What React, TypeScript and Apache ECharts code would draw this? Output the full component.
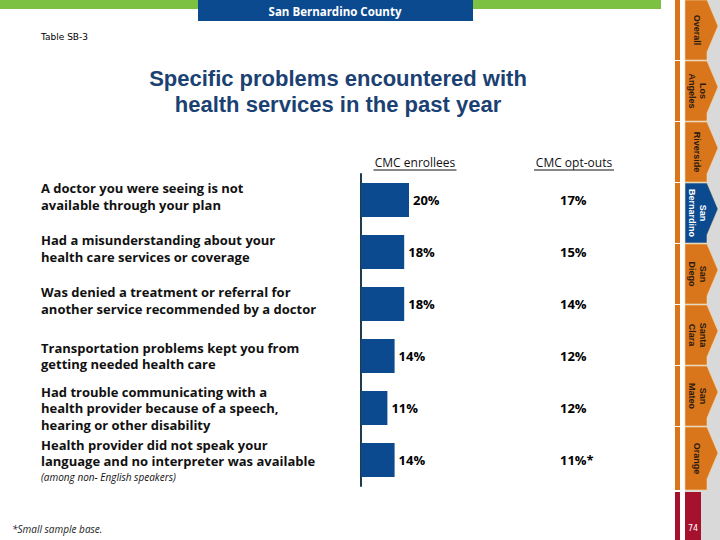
import React, { useEffect, useRef } from "react";
import * as echarts from "echarts";

const categories = [
  "A doctor you were seeing is not\navailable through your plan",
  "Had a misunderstanding about your\nhealth care services or coverage",
  "Was denied a treatment or referral for\nanother service recommended by a doctor",
  "Transportation problems kept you from\ngetting needed health care",
  "Had trouble communicating with a\nhealth provider because of a speech,\nhearing or other disability",
  "Health provider did not speak your\nlanguage and no interpreter was available",
];
const categoryNotes = ["", "", "", "", "", "(among non- English speakers)"];
const enrollees = [20, 18, 18, 14, 11, 14];
const optOuts = [17, 15, 14, 12, 12, 11];
const optOutMarks = ["", "", "", "", "", "*"];
const columnHeaders = ["CMC enrollees", "CMC opt-outs"];
const titleLines = ["Specific problems encountered with", "health services in the past year"];
const tabs = [
  "Overall",
  "Los\nAngeles",
  "Riverside",
  "San\nBernardino",
  "San\nDiego",
  "Santa\nClara",
  "San\nMateo",
  "Orange",
];
const activeTab = 3;
const pageNumber = "74";

const FONT = "'Open Sans', 'DejaVu Sans', sans-serif";
const TITLE_FONT = "'Liberation Sans', Arial, sans-serif";
const BLUE = "#0b4a8e";
const ORANGE = "#d9761c";
const RED = "#a6112d";

export default function App() {
  const ref = useRef<HTMLDivElement>(null);
  useEffect(() => {
    if (!ref.current) return;
    const chart = echarts.init(ref.current, null, { renderer: "svg" });

    const graphics: any[] = [];
    graphics.push({ type: "rect", shape: { x: 0, y: 0, width: 661, height: 9 }, style: { fill: "#7dc142" }, silent: true });
    graphics.push({ type: "rect", shape: { x: 198, y: 0, width: 275, height: 21 }, style: { fill: BLUE } });
    graphics.push({
      type: "text", x: 335, y: 11,
      style: { text: "San Bernardino County", fill: "#fff", fontFamily: FONT, fontWeight: "bold", fontSize: 11.5, align: "center", verticalAlign: "middle" },
    });
    graphics.push({
      type: "text", x: 41, y: 37,
      style: { text: "Table SB-3", fill: "#000", fontFamily: "'DejaVu Sans', sans-serif", fontSize: 9, align: "left", verticalAlign: "middle" },
    });
    titleLines.forEach((t, i) => {
      graphics.push({
        type: "text", x: 338, y: 78 + i * 26,
        style: {
          text: t, fill: "#1b4173", fontFamily: TITLE_FONT, fontWeight: "bold", fontSize: 22,
          align: "center", verticalAlign: "middle", lineHeight: 25,
        },
      });
    });
    const headerX = [415, 574];
    const headerW = [83, 80];
    columnHeaders.forEach((h, i) => {
      graphics.push({
        type: "text", x: headerX[i], y: 162,
        style: { text: h, fill: "#111", fontFamily: FONT, fontSize: 12, align: "center", verticalAlign: "middle" },
      });
      graphics.push({
        type: "line",
        shape: { x1: headerX[i] - headerW[i] / 2, y1: 170, x2: headerX[i] + headerW[i] / 2, y2: 170 },
        style: { stroke: "#111", lineWidth: 1 },
      });
    });
    graphics.push({
      type: "text", x: 12, y: 529,
      style: { text: "*Small sample base.", fill: "#222", fontFamily: FONT, fontStyle: "italic", fontSize: 10, align: "left", verticalAlign: "middle" },
    });
    graphics.push({ type: "rect", shape: { x: 685, y: 0, width: 35, height: 540 }, style: { fill: "#d9d9d9" } });
    const tabH = 61;
    tabs.forEach((t, i) => {
      const top = i * tabH;
      const h = i === tabs.length - 1 ? 63 : 60;
      const col = i === activeTab ? BLUE : ORANGE;
      graphics.push({ type: "rect", shape: { x: 675, y: top, width: 5, height: h }, style: { fill: ORANGE } });
      graphics.push({
        type: "polygon",
        shape: { points: [[685, top], [707, top], [718, top + 26], [707, top + 52], [707, top + h], [685, top + h]] },
        style: { fill: col, stroke: "#f3d9a8", lineWidth: 0.6 },
      });
      graphics.push({
        type: "text", x: 697, y: top + h / 2, rotation: -Math.PI / 2,
        style: {
          text: t, fill: i === activeTab ? "#fff" : "#2b1a0e",
          fontFamily: "'Liberation Sans', sans-serif", fontWeight: "bold", fontSize: 9,
          align: "center", verticalAlign: "middle", lineHeight: 11,
        },
      });
    });
    graphics.push({ type: "rect", shape: { x: 675, y: 492, width: 5, height: 48 }, style: { fill: RED } });
    graphics.push({ type: "rect", shape: { x: 685, y: 492, width: 16, height: 48 }, style: { fill: RED } });
    graphics.push({
      type: "text", x: 693, y: 528,
      style: { text: pageNumber, fill: "#fff", fontFamily: "'DejaVu Sans', sans-serif", fontSize: 8, align: "center", verticalAlign: "middle" },
    });

    const labelText = categories.map((c, i) => {
      const lines = c.split("\n").map((l) => `{m|${l}}`);
      if (categoryNotes[i]) lines.push(`{n|${categoryNotes[i]}}`);
      if (i < 3) lines.push(`{sp| }`);
      return lines.join("\n");
    });

    chart.setOption({
      animation: false,
      backgroundColor: "#fff",
      grid: [
        { left: 361, top: 174, width: 120, height: 312 },
        { left: 560, top: 174, width: 100, height: 312 },
      ],
      xAxis: [
        { gridIndex: 0, type: "value", min: 0, max: 50, show: false },
        { gridIndex: 1, type: "value", min: 0, max: 100, show: false },
      ],
      yAxis: [
        {
          gridIndex: 0, type: "category", inverse: true, data: categories,
          axisLine: { show: true, lineStyle: { color: "#1f3b4d", width: 2 } },
          axisTick: { show: false },
          axisLabel: {
            align: "left", margin: 320,
            formatter: (_v: string, idx: number) => labelText[idx],
            rich: {
              m: { fontFamily: FONT, fontWeight: "bold", fontSize: 13, color: "#111", lineHeight: 16.5 },
              n: { fontFamily: FONT, fontStyle: "italic", fontSize: 10, color: "#111", lineHeight: 14 },
              sp: { fontSize: 1, lineHeight: 7 },
            },
          },
        },
        { gridIndex: 1, type: "category", inverse: true, data: categories, show: false },
      ],
      series: [
        {
          type: "bar", xAxisIndex: 0, yAxisIndex: 0, data: enrollees, barWidth: 34,
          itemStyle: { color: BLUE },
          label: {
            show: true, position: "right", distance: 4, formatter: "{c}%",
            fontFamily: FONT, fontWeight: "bold", fontSize: 13, color: "#000",
          },
        },
        {
          type: "bar", xAxisIndex: 1, yAxisIndex: 1, data: optOuts, barWidth: 34,
          itemStyle: { color: "rgba(0,0,0,0)" },
          label: {
            show: true, position: "insideLeft", distance: 0,
            formatter: (p: any) => `${p.value}%${optOutMarks[p.dataIndex]}`,
            fontFamily: FONT, fontWeight: "bold", fontSize: 13, color: "#000",
          },
        },
      ],
      graphic: graphics,
    });
    return () => chart.dispose();
  }, []);
  return <div ref={ref} style={{ position: "absolute", left: 0, top: 0, width: 720, height: 540 }} />;
}
